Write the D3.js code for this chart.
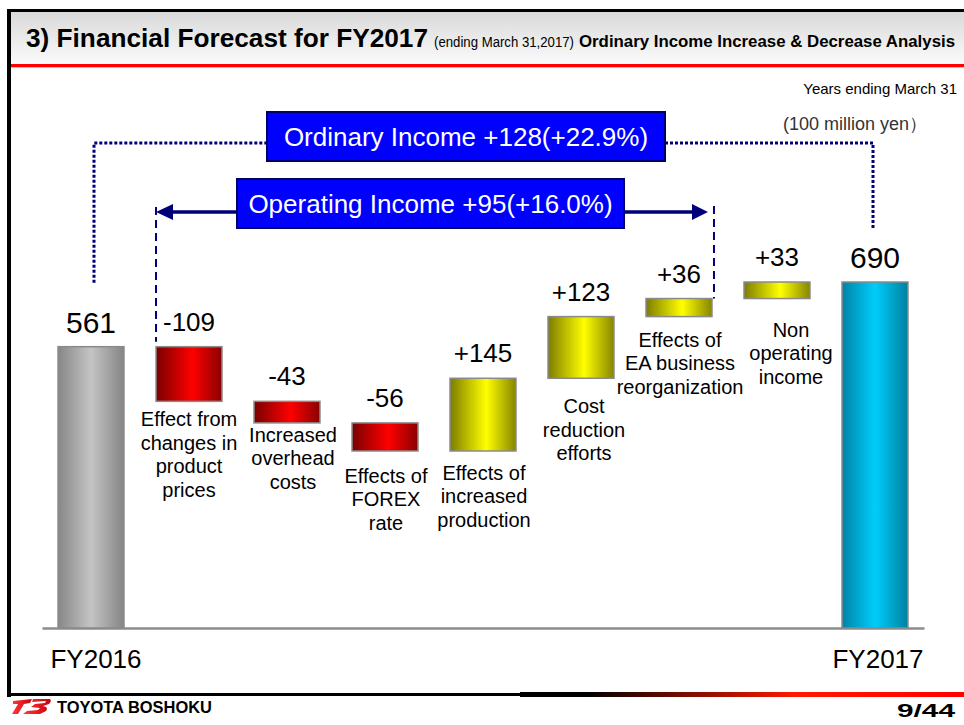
<!DOCTYPE html>
<html>
<head>
<meta charset="utf-8">
<style>
  body { margin: 0; background: #fff; }
  svg { display: block; font-family: "Liberation Sans", Arial, Helvetica, sans-serif; }
</style>
<script src="https://cdnjs.cloudflare.com/ajax/libs/d3/7.8.5/d3.min.js"></script>
</head>
<body>
<script>
// values in 100 million yen
var categories = ["FY2016", "Effect from\nchanges in\nproduct\nprices", "Increased\noverhead\ncosts",
  "Effects of\nFOREX\nrate", "Effects of\nincreased\nproduction", "Cost\nreduction\nefforts",
  "Effects of\nEA business\nreorganization", "Non\noperating\nincome", "FY2017"];
var values = [561, -109, -43, -56, 145, 123, 36, 33, 690];
var valueLabels = ["561", "-109", "-43", "-56", "+145", "+123", "+36", "+33", "690"];
var ordinaryText = "Ordinary Income +128(+22.9%)";
var operatingText = "Operating Income +95(+16.0%)";

var W = 964, H = 725;
var svg = d3.select("body").append("svg").attr("width", W).attr("height", H);
var defs = svg.append("defs");

function hGrad(id, stops) {
  var g = defs.append("linearGradient").attr("id", id)
    .attr("x1", "0%").attr("x2", "100%").attr("y1", "0%").attr("y2", "0%");
  stops.forEach(function(s) { g.append("stop").attr("offset", s[0]).attr("stop-color", s[1]); });
}
hGrad("gGray", [["0%", "#878787"], ["50%", "#c4c4c4"], ["100%", "#858585"]]);
hGrad("gRed", [["0%", "#7a0000"], ["55%", "#ff0000"], ["100%", "#8a0000"]]);
hGrad("gYel", [["0%", "#7d7d00"], ["55%", "#ffff00"], ["100%", "#858500"]]);
hGrad("gCyan", [["0%", "#0083a6"], ["50%", "#00cdfb"], ["100%", "#00809f"]]);
hGrad("gFoot", [["0%", "#000"], ["15%", "#000"], ["62%", "#ff1a00"], ["100%", "#ff0000"]]);
hGrad("gLogo", [["0%", "#ff3b3b"], ["100%", "#c8000a"]]);
var vg = defs.append("linearGradient").attr("id", "gHead").attr("x1", "0").attr("x2", "0").attr("y1", "0").attr("y2", "1");
vg.append("stop").attr("offset", "0%").attr("stop-color", "#d9d9d9");
vg.append("stop").attr("offset", "100%").attr("stop-color", "#fbfbfb");

// ---- slide frame / header ----
svg.append("rect").attr("x", 11).attr("y", 12).attr("width", W - 11).attr("height", 52).attr("fill", "url(#gHead)");
svg.append("rect").attr("x", 11).attr("y", 64).attr("width", W - 11).attr("height", 3).attr("fill", "#ff0000");
svg.append("rect").attr("x", 11).attr("y", 67).attr("width", W - 11).attr("height", 1).attr("fill", "#ffb0b0");
svg.append("rect").attr("x", 7).attr("y", 9).attr("width", W - 7).attr("height", 3).attr("fill", "#000");
svg.append("rect").attr("x", 7).attr("y", 9).attr("width", 4).attr("height", 688).attr("fill", "#000");

svg.append("text").attr("x", 26).attr("y", 47).attr("font-size", 26).attr("font-weight", "bold")
  .attr("textLength", 402).attr("lengthAdjust", "spacingAndGlyphs").text("3) Financial Forecast for FY2017");
svg.append("text").attr("x", 434).attr("y", 47).attr("font-size", 14)
  .attr("textLength", 140).attr("lengthAdjust", "spacingAndGlyphs").text("(ending March 31,2017)");
svg.append("text").attr("x", 579).attr("y", 47).attr("font-size", 16).attr("font-weight", "bold")
  .attr("textLength", 376).attr("lengthAdjust", "spacingAndGlyphs").text("Ordinary Income Increase & Decrease Analysis");

svg.append("text").attr("x", 957).attr("y", 94).attr("text-anchor", "end").attr("font-size", 15)
  .attr("fill", "#000").text("Years ending March 31");
svg.append("text").attr("x", 783).attr("y", 130).attr("font-size", 18).attr("fill", "#333")
  .text("(100 million yen\uFF09");

// ---- footer ----
svg.append("rect").attr("x", 7).attr("y", 693).attr("width", 520).attr("height", 3).attr("fill", "#000");
svg.append("rect").attr("x", 520).attr("y", 692).attr("width", W - 520).attr("height", 5).attr("fill", "url(#gFoot)");
var logo = svg.append("g").attr("fill", "url(#gLogo)");
logo.append("path").attr("d", "M13,701 L32,699 L30,703 L24,704 L18,714 L12,714 L18,704 L13,704 Z");
logo.append("path").attr("d", "M33,699 L50,699 Q52,701 49,704 L43,706 Q49,707 46,711 L40,714 L23,714 L27,711 L38,710 L40,708 L31,707 L35,704 L45,703 L46,701 L32,702 Z");
svg.append("text").attr("x", 57).attr("y", 713).attr("font-size", 16).attr("font-weight", "bold")
  .attr("textLength", 155).attr("lengthAdjust", "spacingAndGlyphs").text("TOYOTA BOSHOKU");
svg.append("text").attr("x", 897).attr("y", 717).attr("font-size", 18).attr("font-weight", "bold")
  .attr("textLength", 58).attr("lengthAdjust", "spacingAndGlyphs").text("9/44");

// ---- waterfall ----
var run = 0;
var bars = values.map(function(v, i) {
  var b = { i: i, v: v, label: valueLabels[i], cat: categories[i] };
  if (i === 0 || i === values.length - 1) { b.lo = 0; b.hi = v; run = v; b.total = true; }
  else { b.lo = Math.min(run, run + v); b.hi = Math.max(run, run + v); run += v; }
  b.fill = i === 0 ? "url(#gGray)" : i === values.length - 1 ? "url(#gCyan)" : v < 0 ? "url(#gRed)" : "url(#gYel)";
  return b;
});

var x = d3.scaleBand().domain(d3.range(values.length)).range([42, 924]).paddingInner(0.327).paddingOuter(0.1635);
var y = d3.scaleLinear().domain([0, 690]).range([628, 282]);
var bw = x.bandwidth();

svg.append("g").attr("transform", "translate(0," + y(0) + ")")
  .call(d3.axisBottom(x).tickSize(0).tickFormat(""))
  .call(function(g) { g.select(".domain").attr("stroke", "#8c8c8c").attr("stroke-width", 2.5); });

svg.selectAll(".bar").data(bars).enter().append("rect").attr("class", "bar")
  .attr("x", function(d) { return x(d.i); })
  .attr("y", function(d) { return y(d.hi); })
  .attr("width", bw)
  .attr("height", function(d) { return y(d.lo) - y(d.hi); })
  .attr("fill", function(d) { return d.fill; })
  .attr("stroke", "#8a8a8a").attr("stroke-width", 1.5);

svg.selectAll(".val").data(bars).enter().append("text").attr("class", "val")
  .attr("x", function(d) { return x(d.i) + bw / 2; })
  .attr("y", function(d) { return y(d.hi) - (d.total ? 14 : 16); })
  .attr("text-anchor", "middle")
  .attr("font-size", function(d) { return d.total ? 30 : 26; })
  .attr("fill", "#000")
  .text(function(d) { return d.label; });

// small nudges so the category texts sit where the slide has them
var labelNudge = [[5, 0], [0, 18], [6, 12], [1, 25], [1, 22], [3, 28], [1, 23], [14, 31], [3, 0]];
var cats = svg.selectAll(".cat").data(bars).enter().append("text").attr("class", "cat")
  .attr("text-anchor", "middle").attr("fill", "#000")
  .attr("font-size", function(d) { return d.total ? 26 : 20; })
  .attr("transform", function(d) {
    var cx = x(d.i) + bw / 2 + labelNudge[d.i][0];
    var cy = d.total ? 668 : y(d.lo) + labelNudge[d.i][1] + 7;
    return "translate(" + cx + "," + cy + ")";
  });
cats.selectAll("tspan").data(function(d) { return d.cat.split("\n"); }).enter().append("tspan")
  .attr("x", 0).attr("dy", function(d, j) { return j === 0 ? 0 : 23.5; })
  .text(function(d) { return d; });

// ---- income annotations ----
var navy = "#00007a";
var leftC = x(0) + bw / 2 + 3, rightC = x(8) + bw / 2 - 2;
var dotted = svg.append("g").attr("fill", "none").attr("stroke", navy).attr("stroke-width", 3).attr("stroke-dasharray", "3,2");
dotted.append("path").attr("d", "M" + leftC + "," + (y(561) - 64) + "V143H267");
dotted.append("path").attr("d", "M665,143H" + rightC + "V" + (y(690) - 54));

var xl = x(1), xr = x(6) + bw + 2;
var dashed = svg.append("g").attr("fill", "none").attr("stroke", navy).attr("stroke-width", 2).attr("stroke-dasharray", "8,5");
dashed.append("path").attr("d", "M" + xl + ",207V" + (y(561) - 5));
dashed.append("path").attr("d", "M" + xr + ",206V" + y(657));

var ay = 212;
svg.append("path").attr("d", "M" + (xl + 16) + "," + ay + "H237M624," + ay + "H" + (xr - 21))
  .attr("stroke", navy).attr("stroke-width", 3.5).attr("fill", "none");
svg.append("path").attr("fill", navy)
  .attr("d", "M" + xl + "," + ay + "L" + (xl + 17) + "," + (ay - 8) + "V" + (ay + 8) + "Z" +
             "M" + (xr - 6) + "," + ay + "L" + (xr - 22) + "," + (ay - 8) + "V" + (ay + 8) + "Z");

function box(x0, y0, w, h, txt) {
  svg.append("rect").attr("x", x0).attr("y", y0).attr("width", w).attr("height", h)
    .attr("fill", "#0000ff").attr("stroke", "#000066").attr("stroke-width", 2);
  svg.append("text").attr("x", x0 + w / 2).attr("y", y0 + h / 2 + 9).attr("text-anchor", "middle")
    .attr("font-size", 26).attr("fill", "#fff").text(txt);
}
box(267, 112, 398, 49, ordinaryText);
box(237, 179, 387, 49, operatingText);
</script>
</body>
</html>
